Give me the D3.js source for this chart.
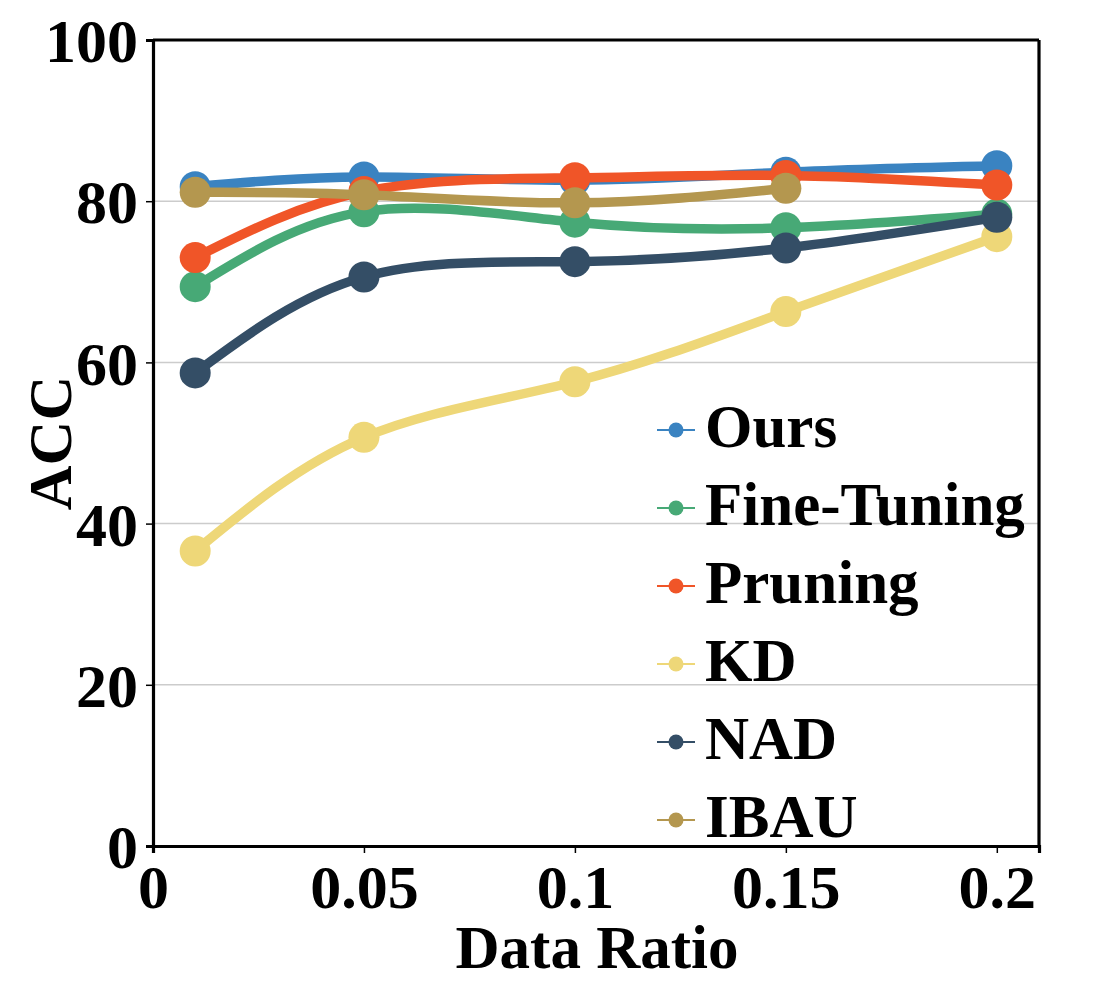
<!DOCTYPE html>
<html lang="en">
<head>
    <meta charset="UTF-8">
    <title>ACC vs Data Ratio</title>
    <script src="https://d3js.org/d3.v7.min.js"></script>
    <style>
        body { margin: 0; background: #fff; }
        text { font-family: "Liberation Serif", "Times New Roman", serif; font-weight: bold; fill: #000; }
        .grid line { stroke: #cccccc; stroke-width: 1.5; }
        .axis path, .axis line { stroke: #000; }
    </style>
</head>
<body>
    <svg id="chart" width="1093" height="984"></svg>

    <script>
        // Data
        const ratios = [0.01, 0.05, 0.1, 0.15, 0.2];
        const methods = ["Ours", "Fine-Tuning", "Pruning", "KD", "NAD", "IBAU"];
        const colors = ["#3a83c1", "#47a976", "#f05528", "#eed778", "#344e66", "#b4974f"];

        const ours       = [81.8, 83.0, 82.6, 83.6, 84.4];
        const fineTuning = [69.4, 78.7, 77.4, 76.7, 78.4];
        const pruning    = [73.0, 81.2, 82.9, 83.2, 82.0];
        const kd         = [36.6, 50.7, 57.6, 66.3, 75.6];
        const nad        = [58.7, 70.6, 72.5, 74.2, 78.0];
        const ibau       = [81.1, 80.8, 79.8, 81.6];   // no point at 0.2

        const xTicks = [0, 0.05, 0.1, 0.15, 0.2];
        const xTickLabels = ["0", "0.05", "0.1", "0.15", "0.2"];
        const yTicks = [0, 20, 40, 60, 80, 100];
        const gridTicks = [20, 40, 60, 80];

        const seriesValues = [ours, fineTuning, pruning, kd, nad, ibau];
        const series = methods.map((name, i) => ({
            name: name,
            color: colors[i],
            points: seriesValues[i].map((v, j) => ({ x: ratios[j], y: v }))
        }));

        const svg = d3.select("#chart"),
            width = +svg.attr("width"),
            height = +svg.attr("height"),
            margin = { top: 40, right: 54, bottom: 138, left: 153 };

        const x = d3.scaleLinear()
            .domain([0, 0.21])
            .range([margin.left, width - margin.right]);

        const y = d3.scaleLinear()
            .domain([0, 100])
            .range([height - margin.bottom, margin.top]);

        // horizontal grid
        svg.append("g")
            .attr("class", "grid")
            .selectAll("line")
            .data(gridTicks)
            .enter().append("line")
            .attr("x1", x.range()[0])
            .attr("x2", x.range()[1])
            .attr("y1", d => y(d))
            .attr("y2", d => y(d));

        // lines + markers
        const line = d3.line()
            .x(d => x(d.x))
            .y(d => y(d.y))
            .curve(d3.curveNatural);

        const groups = svg.selectAll(".series")
            .data(series)
            .enter().append("g")
            .attr("class", "series");

        groups.append("path")
            .attr("d", d => line(d.points))
            .attr("fill", "none")
            .attr("stroke", d => d.color)
            .attr("stroke-width", 9.5)
            .attr("stroke-linecap", "round")
            .attr("stroke-linejoin", "round");

        groups.selectAll("circle")
            .data(d => d.points.map(p => ({ ...p, color: d.color })))
            .enter().append("circle")
            .attr("cx", d => x(d.x))
            .attr("cy", d => y(d.y))
            .attr("r", 15.5)
            .attr("fill", d => d.color);

        // axes
        const xAxis = svg.append("g")
            .attr("class", "axis")
            .attr("transform", `translate(0,${y(0)})`)
            .call(d3.axisBottom(x)
                .tickValues(xTicks)
                .tickFormat((d, i) => xTickLabels[i])
                .tickSizeOuter(0)
                .tickSize(7)
                .tickPadding(11));

        const yAxis = svg.append("g")
            .attr("class", "axis")
            .attr("transform", `translate(${x(0)},0)`)
            .call(d3.axisLeft(y)
                .tickValues(yTicks)
                .tickSizeOuter(0)
                .tickSize(7)
                .tickPadding(8));

        [xAxis, yAxis].forEach(a => {
            a.select(".domain").attr("stroke-width", 3.2);
            a.selectAll(".tick line").attr("stroke-width", 1.5).attr("stroke", "#333");
            a.selectAll(".tick text")
                .style("font-size", "62px")
                .style("font-family", "'Liberation Serif', serif")
                .style("font-weight", "bold")
                .attr("fill", "#000");
        });
        yAxis.selectAll(".tick text").attr("dy", "0.35em");

        // top and right spines
        svg.append("line")
            .attr("x1", x.range()[0]).attr("x2", x.range()[1])
            .attr("y1", y(100)).attr("y2", y(100))
            .attr("stroke", "#000").attr("stroke-width", 3.2);
        svg.append("line")
            .attr("x1", x.range()[1]).attr("x2", x.range()[1])
            .attr("y1", y(0)).attr("y2", y(100))
            .attr("stroke", "#000").attr("stroke-width", 3.2);

        // axis titles
        svg.append("text")
            .attr("x", (x.range()[0] + x.range()[1]) / 2 + 1)
            .attr("y", 968)
            .attr("text-anchor", "middle")
            .style("font-size", "61px")
            .text("Data Ratio");

        svg.append("text")
            .attr("transform", `translate(71,443) rotate(-90)`)
            .attr("text-anchor", "middle")
            .style("font-size", "62px")
            .text("ACC");

        // legend
        const legend = svg.append("g")
            .attr("transform", "translate(657,430)");

        const rows = legend.selectAll(".row")
            .data(series)
            .enter().append("g")
            .attr("transform", (d, i) => `translate(0,${i * 78})`);

        rows.append("line")
            .attr("x1", 0).attr("x2", 38)
            .attr("stroke", d => d.color)
            .attr("stroke-width", 2);

        rows.append("circle")
            .attr("cx", 19)
            .attr("r", 7.5)
            .attr("fill", d => d.color);

        rows.append("text")
            .attr("x", 48)
            .attr("y", 17)
            .style("font-size", "61px")
            .text(d => d.name);
    </script>
</body>
</html>
